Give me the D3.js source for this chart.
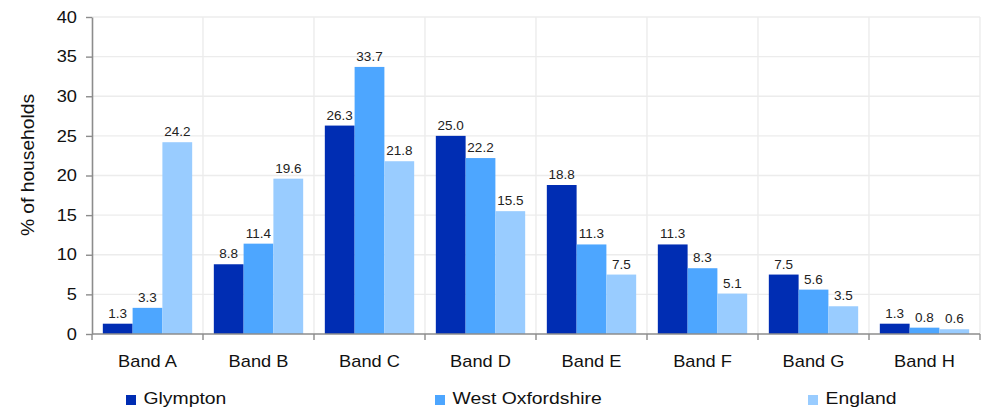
<!DOCTYPE html>
<html><head><meta charset="utf-8">
<script src="https://cdn.jsdelivr.net/npm/d3@7"></script>
<style>body{margin:0;background:#fff}svg{display:block;font-family:"Liberation Sans",Arial,sans-serif}</style>
</head><body><svg id="c" width="981" height="409"></svg>
<script>
const categories = ["Band A","Band B","Band C","Band D","Band E","Band F","Band G","Band H"];
const seriesNames = ["Glympton","West Oxfordshire","England"];
const glympton = [1.3,8.8,26.3,25.0,18.8,11.3,7.5,1.3];
const westOxfordshire = [3.3,11.4,33.7,22.2,11.3,8.3,5.6,0.8];
const england = [24.2,19.6,21.8,15.5,7.5,5.1,3.5,0.6];
const yTicks = [0,5,10,15,20,25,30,35,40];
const colors = ["#002db3","#4da6ff","#99ccff"];
const seriesValues = [glympton, westOxfordshire, england];

const svg = d3.select("#c");
const m = {l:92, r:980, t:17, b:334};
const x = d3.scaleBand().domain(categories).range([m.l, m.r]).paddingInner(0).paddingOuter(0);
const y = d3.scaleLinear().domain([0,40]).range([m.b, m.t]);
const inner = x.bandwidth()*0.805;
const xs = d3.scaleBand().domain(seriesNames).range([0, inner]);
const off = (x.bandwidth()-inner)/2;
const SX = 1.14; // horizontal widening of the reference's sans font

// gridlines
svg.append("g").selectAll("line").data(yTicks.slice(1)).join("line")
  .attr("x1", m.l).attr("x2", m.r).attr("y1", d=>y(d)).attr("y2", d=>y(d))
  .attr("stroke","#ececec").attr("stroke-width",1.4);
const bounds = categories.map(c=>x(c)+x.bandwidth());
svg.append("g").selectAll("line").data(bounds).join("line")
  .attr("x1", d=>d).attr("x2", d=>d).attr("y1", m.t).attr("y2", m.b)
  .attr("stroke","#ececec").attr("stroke-width",1.4);

// bars + labels
categories.forEach((c,i)=>{
  seriesNames.forEach((s,j)=>{
    const v = seriesValues[j][i];
    const bx = x(c)+off+xs(s);
    svg.append("rect").attr("x", bx).attr("y", y(v)).attr("width", xs.bandwidth()).attr("height", y(0)-y(v)).attr("fill", colors[j]);
    svg.append("text").attr("x", bx+xs.bandwidth()/2).attr("y", y(v)-6).attr("text-anchor","middle")
      .attr("font-size",13.5).attr("fill","#222").text(v.toFixed(1));
  });
});

// y axis (built with d3.axisLeft, text widened)
const ya = svg.append("g").attr("transform",`translate(${m.l},0)`)
  .call(d3.axisLeft(y).tickValues(yTicks).tickSize(6).tickPadding(9).tickSizeOuter(0));
ya.select(".domain").attr("stroke","#8c8c8c").attr("stroke-width",1.6);
ya.selectAll(".tick line").attr("stroke","#8c8c8c").attr("stroke-width",1.4);
ya.selectAll(".tick text").each(function(){
  const t = d3.select(this);
  const tx = +t.attr("x");
  t.attr("x",0).attr("transform",`translate(${tx},0) scale(${SX},1)`)
   .attr("font-size",16).attr("fill","#111").attr("font-family","Liberation Sans, Arial, sans-serif");
});

// x axis
const xa = svg.append("g").attr("transform",`translate(0,${m.b})`);
xa.append("line").attr("x1",m.l).attr("x2",m.r).attr("stroke","#8c8c8c").attr("stroke-width",1.6);
xa.selectAll("line.t").data([m.l, ...bounds]).join("line").attr("class","t")
  .attr("x1",d=>d).attr("x2",d=>d).attr("y1",0).attr("y2",6).attr("stroke","#8c8c8c").attr("stroke-width",1.4);
xa.selectAll("text").data(categories).join("text")
  .attr("transform",d=>`translate(${x(d)+x.bandwidth()/2},33.3) scale(${SX},1)`)
  .attr("text-anchor","middle").attr("font-size",16).attr("fill","#111").text(d=>d);

// y title
svg.append("text").attr("transform",`translate(34,165) rotate(-90) scale(1.1,1)`).attr("text-anchor","middle")
  .attr("font-size",17.5).attr("fill","#111").text("% of households");

// legend
const legX = [126, 435, 808];
seriesNames.forEach((s,j)=>{
  const g = svg.append("g").attr("transform",`translate(${legX[j]},400)`);
  g.append("rect").attr("x",0).attr("y",-5).attr("width",10).attr("height",10).attr("fill",colors[j]);
  g.append("text").attr("transform",`translate(17.5,3.5) scale(${SX},1)`)
    .attr("font-size",17).attr("fill","#111").text(s);
});
</script></body></html>
